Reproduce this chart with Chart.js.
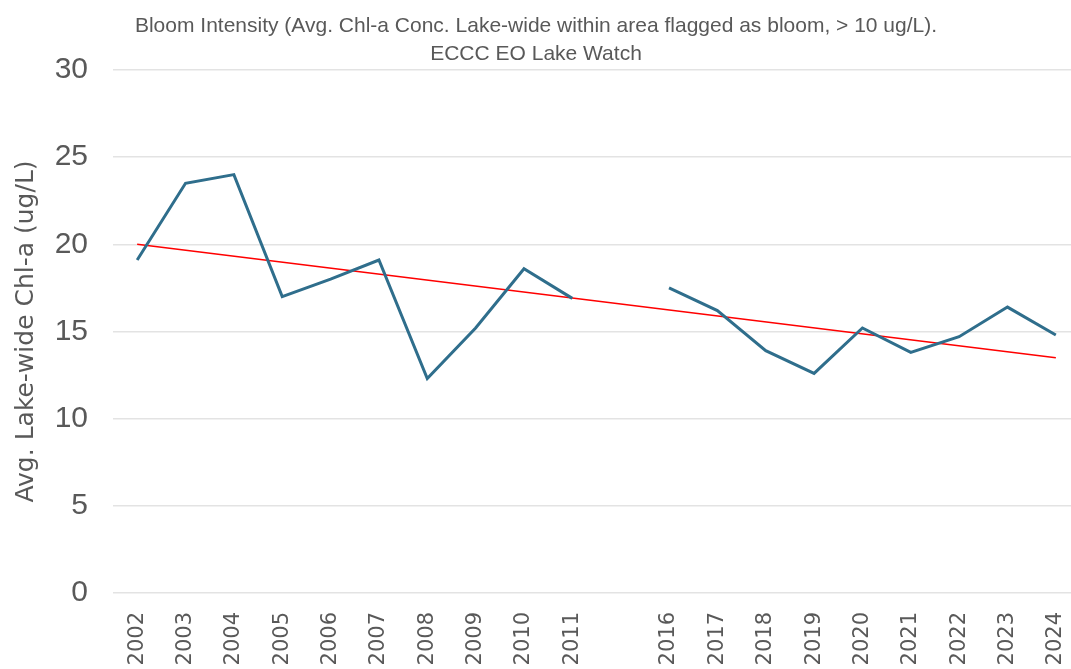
<!DOCTYPE html>
<html>
<head>
<meta charset="utf-8">
<script src="https://cdn.jsdelivr.net/npm/chart.js@4.4.1/dist/chart.umd.min.js"></script>
<style>
  html, body { margin:0; padding:0; background:#fff; overflow:hidden; }
  #wrap { width:1071px; height:669px; overflow:hidden; }
</style>
</head>
<body>
<div id="wrap"><canvas id="chart" width="1080" height="669"></canvas></div>
<script>
// ── data ──
var YEARS = ['2002','2003','2004','2005','2006','2007','2008','2009','2010','2011','',
             '2016','2017','2018','2019','2020','2021','2022','2023','2024'];
var CHLA = [19.1, 23.5, 24.0, 17.0, 18.0, 19.1, 12.3, 15.2, 18.6, 16.9, null,
            17.5, 16.2, 13.9, 12.6, 15.2, 13.8, 14.7, 16.4, 14.8];
// linear trendline: only its two end values, the library joins them
var TREND = [20.0, null, null, null, null, null, null, null, null, null, null,
             null, null, null, null, null, null, null, null, 13.5];
var Y_TICKS = [0, 5, 10, 15, 20, 25, 30];
var TITLE_LINES = ['Bloom Intensity (Avg. Chl-a Conc. Lake-wide within area flagged as bloom, > 10 ug/L).',
                   'ECCC EO Lake Watch'];

var GREY = '#595959';

// two-line title, centred on the page
var titlePlugin = {
  id:'twoLineTitle',
  afterDraw:function(chart){
    var c = chart.ctx;
    c.save();
    c.fillStyle = GREY;
    c.font = '21px "Liberation Sans", Arial, sans-serif';
    c.textAlign = 'center';
    c.textBaseline = 'alphabetic';
    c.fillText(TITLE_LINES[0], 536, 32);
    c.fillText(TITLE_LINES[1], 536, 60);
    c.restore();
  }
};

var ctx = document.getElementById('chart');
new Chart(ctx, {
  type:'line',
  data:{
    labels: YEARS,
    datasets:[{
      label:'Chl-a',
      data: CHLA,
      borderColor:'#2F6E8C',
      borderWidth:3,
      pointRadius:0,
      tension:0,
      spanGaps:false
    },{
      label:'Trend',
      data: TREND,
      borderColor:'#FF0000',
      borderWidth:1.5,
      pointRadius:0,
      tension:0,
      spanGaps:true
    }]
  },
  options:{
    responsive:false,
    animation:false,
    devicePixelRatio:1,
    layout:{padding:{top:70, right:0, bottom:0, left:0}},
    plugins:{legend:{display:false}, tooltip:{enabled:false}, title:{display:false}},
    scales:{
      x:{
        offset:true,
        grid:{display:false},
        border:{display:false},
        ticks:{color:GREY, font:{family:'"DejaVu Sans", sans-serif', size:21},
               minRotation:90, maxRotation:90, autoSkip:false, padding:11},
        afterFit:function(s){ s.height = 76; s.paddingLeft = 0; s.paddingRight = 0; }
      },
      y:{
        min:0, max:30,
        afterBuildTicks:function(s){ s.ticks = Y_TICKS.map(function(v){ return {value:v}; }); },
        grid:{color:'#E3E3E3', lineWidth:1.5, drawTicks:false},
        border:{display:false},
        ticks:{color:GREY, font:{family:'"Liberation Sans", Arial, sans-serif', size:30}, padding:25},
        title:{display:true, text:'Avg. Lake-wide Chl-a (ug/L)', color:GREY,
               font:{family:'"DejaVu Sans", sans-serif', size:25}, padding:{top:11,bottom:0}},
        afterFit:function(s){ s.width = 113; s.paddingTop = 0; s.paddingBottom = 0; }
      }
    }
  },
  plugins:[titlePlugin]
});
</script>
</body>
</html>
